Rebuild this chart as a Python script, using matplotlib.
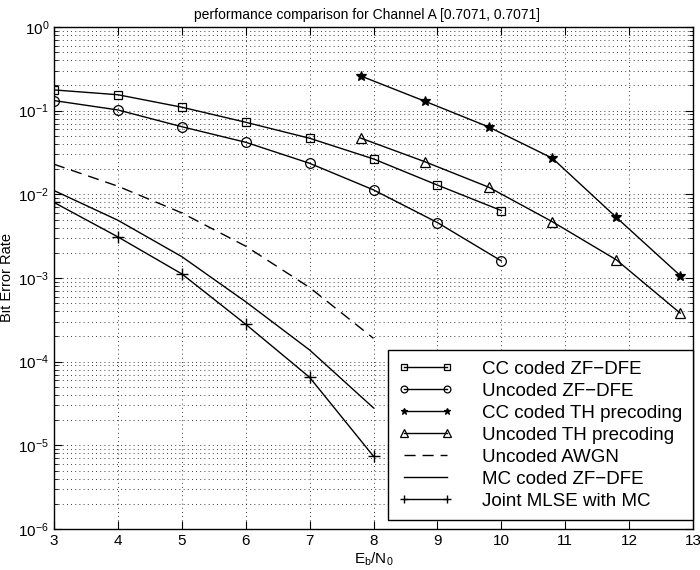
import matplotlib
matplotlib.use("Agg")
import matplotlib.pyplot as plt
from matplotlib.ticker import LogLocator, FixedLocator, NullFormatter

plt.rcParams['font.family'] = ['Liberation Sans', 'DejaVu Sans']
plt.rcParams['mathtext.fontset'] = 'custom'
plt.rcParams['mathtext.rm'] = 'Liberation Sans'
plt.rcParams['mathtext.it'] = 'Liberation Sans:italic'
plt.rcParams['mathtext.default'] = 'regular'

# ---- data ----
x_zf = [3, 4, 5, 6, 7, 8, 9, 10]
cc_zfdfe = [0.177, 0.155, 0.110, 0.0727, 0.0468, 0.0265, 0.0129, 0.0064]
uncoded_zfdfe = [0.132, 0.102, 0.0643, 0.0419, 0.0235, 0.0113, 0.0046, 0.0016]

x_th = [7.8, 8.8, 9.8, 10.8, 11.8, 12.8]
cc_th = [0.26, 0.13, 0.064, 0.027, 0.0053, 0.00107]
uncoded_th = [0.047, 0.0246, 0.0122, 0.0047, 0.00165, 0.00038]

x_low = [3, 4, 5, 6, 7, 8]
awgn = [0.0229, 0.0125, 0.0060, 0.0024, 0.00077, 0.00019]
mc_zfdfe = [0.0111, 0.0049, 0.0018, 0.00052, 0.000138, 0.000028]
mlse_mc = [0.0080, 0.0031, 0.00112, 0.00028, 0.000065, 0.0000074]

labels = ["CC coded ZF\u2212DFE", "Uncoded ZF\u2212DFE", "CC coded TH precoding",
          "Uncoded TH precoding", "Uncoded AWGN", "MC coded ZF\u2212DFE",
          "Joint MLSE with MC"]
xticks = [3, 4, 5, 6, 7, 8, 9, 10, 11, 12, 13]
yticks = [1e-6, 1e-5, 1e-4, 1e-3, 1e-2, 1e-1, 1e0]
ytick_labels = [r'$10^{-6}$', r'$10^{-5}$', r'$10^{-4}$', r'$10^{-3}$',
                r'$10^{-2}$', r'$10^{-1}$', r'$10^{0}$']
title = "performance comparison for Channel A [0.7071, 0.7071]"

# ---- figure ----
fig = plt.figure(figsize=(7.0, 5.7), dpi=100)
ax = fig.add_axes([54/700, 1-529/570, (693-54)/700, (529-27)/570])

lw = 1.0
ax.semilogy(x_zf, cc_zfdfe, 'k-', marker='s', ms=6, mfc='none', mew=0.9, lw=lw, label=labels[0])
ax.semilogy(x_zf, uncoded_zfdfe, 'k-', marker='o', ms=7, mfc='none', mew=0.9, lw=lw, label=labels[1])
ax.semilogy(x_th, cc_th, 'k-', marker='*', ms=7, mfc='k', mew=0.9, lw=lw, label=labels[2])
ax.semilogy(x_th, uncoded_th, 'k-', marker='^', ms=7.5, mfc='none', mew=0.9, lw=lw, label=labels[3])
ax.semilogy(x_low, awgn, 'k--', lw=lw, dashes=(8, 5), label=labels[4])
ax.semilogy(x_low, mc_zfdfe, 'k-', lw=lw, label=labels[5])
ax.semilogy(x_low, mlse_mc, 'k-', marker='+', ms=9, mew=1.0, lw=lw, label=labels[6])

ax.set_xlim(3, 13)
ax.set_ylim(1e-6, 1e0)
ax.xaxis.set_major_locator(FixedLocator(xticks))
ax.set_yticks(yticks)
ax.set_yticklabels(ytick_labels)
ax.yaxis.set_minor_locator(LogLocator(base=10, subs=range(2, 10), numticks=20))
ax.yaxis.set_minor_formatter(NullFormatter())

ax.grid(True, which='major', axis='both', color='k', linestyle=(0, (1, 4)), linewidth=0.6)
ax.grid(True, which='minor', axis='y', color='k', linestyle=(0, (1, 4)), linewidth=0.6)

ax.tick_params(which='both', direction='in', top=True, right=True, labelsize=11)
ax.tick_params(which='major', length=6, width=0.8)
ax.tick_params(which='minor', length=3, width=0.6)
for s in ax.spines.values():
    s.set_linewidth(1.0)

ax.set_title(title, fontsize=10, pad=6, x=0.49)
ax.set_xlabel(r'$E_b/N_0$', fontsize=11, labelpad=2)
ax.set_ylabel('Bit Error Rate', fontsize=10.5)
ax.yaxis.set_label_coords(-0.062, 0.5)

leg = ax.legend(loc='lower right', bbox_to_anchor=(1.0, 0.018), numpoints=2,
                fontsize=13.5, handlelength=2.9, handletextpad=1.6, labelspacing=0.26,
                borderpad=0.55, borderaxespad=0.0, fancybox=False, framealpha=1,
                edgecolor='k', markerscale=0.7)
leg.get_frame().set_linewidth(1.0)

fig.savefig('out.png', dpi=100)
